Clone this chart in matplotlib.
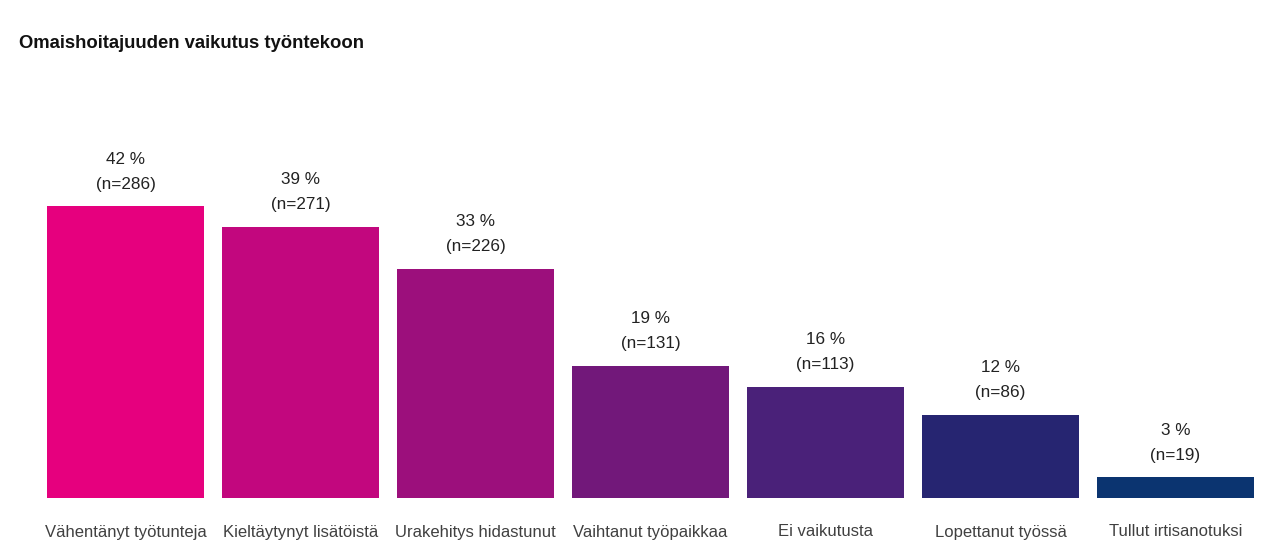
import matplotlib.pyplot as plt

categories = ["Vähentänyt työtunteja", "Kieltäytynyt lisätöistä", "Urakehitys hidastunut",
              "Vaihtanut työpaikkaa", "Ei vaikutusta", "Lopettanut työssä", "Tullut irtisanotuksi"]
percents = [42, 39, 33, 19, 16, 12, 3]
counts = [286, 271, 226, 131, 113, 86, 19]
colors = ["#E6007E", "#C2077E", "#9C0F7C", "#72187A", "#4A2179", "#262571", "#0B3470"]

plt.rcParams['font.family'] = ['Liberation Sans', 'DejaVu Sans']

fig = plt.figure(figsize=(12.77, 5.44), dpi=100)
ax = fig.add_axes([38 / 1277, 46 / 544, 1225 / 1277, 347.5 / 544])

x = range(len(categories))
ax.bar(x, percents, width=0.897, color=colors)
ax.set_xlim(-0.5, len(categories) - 0.5)
ax.set_ylim(0, 50)

for i, (p, n) in enumerate(zip(percents, counts)):
    ax.annotate(f"{p} %", (i, p), xytext=(0, 47), textcoords="offset pixels",
                ha="center", va="center", fontsize=12.3, color="#222222")
    ax.annotate(f"(n={n})", (i, p), xytext=(0, 22), textcoords="offset pixels",
                ha="center", va="center", fontsize=12.3, color="#222222")
    ax.annotate(categories[i], (i, 0), xytext=(0, -34), textcoords="offset pixels",
                ha="center", va="center", fontsize=12, color="#404040")

ax.axis("off")
fig.text(19 / 1277, 1 - 44 / 544, "Omaishoitajuuden vaikutus työntekoon",
         fontsize=13.3, fontweight="bold", ha="left", va="center", color="#111111")

fig.savefig("out.png", dpi=100)
